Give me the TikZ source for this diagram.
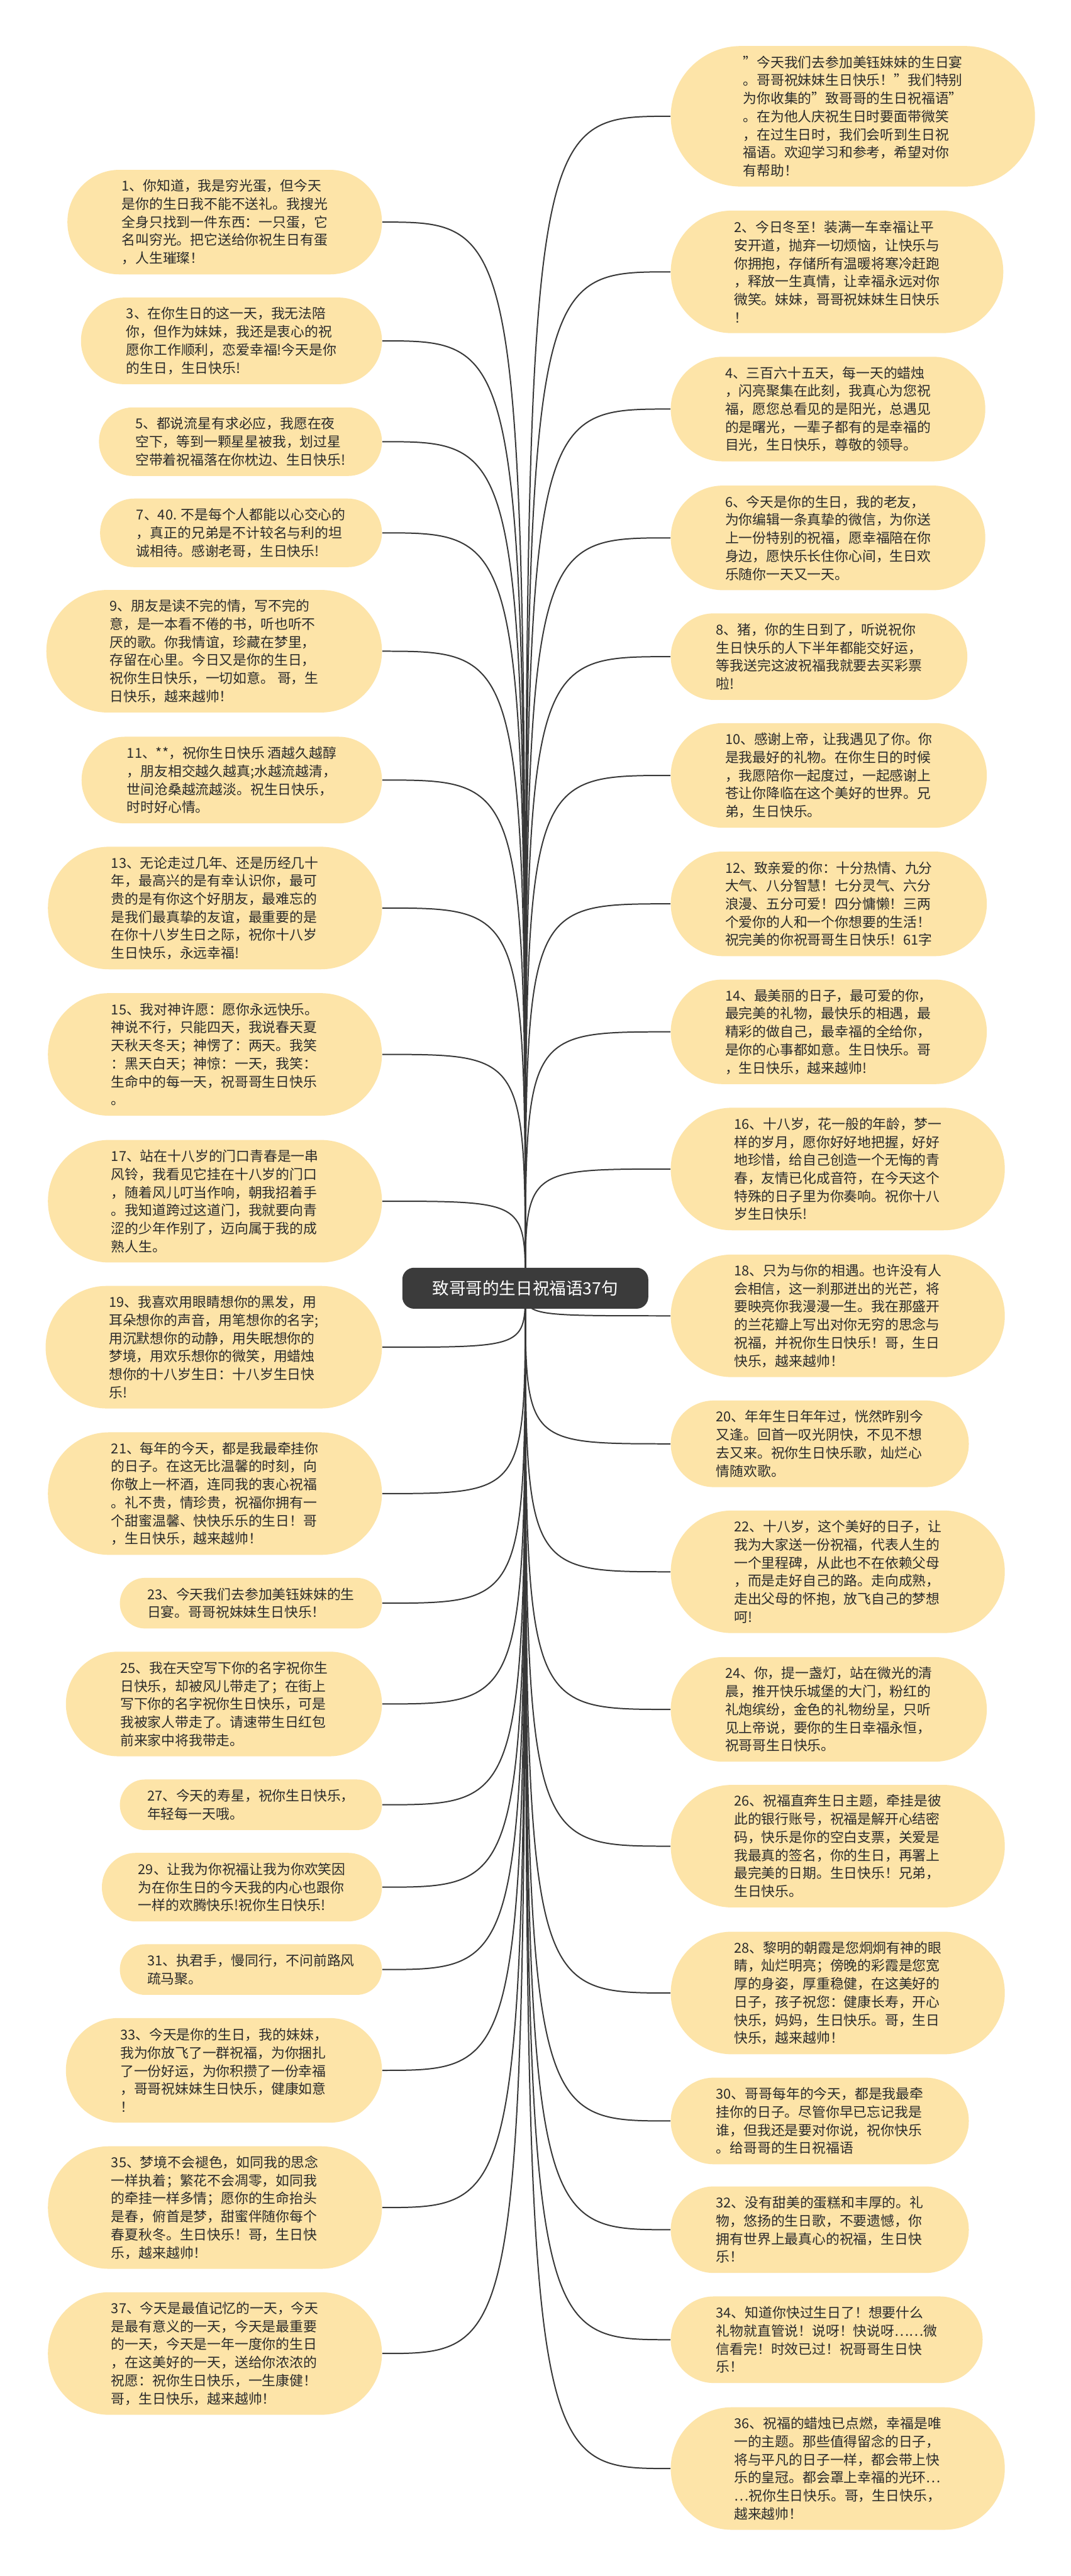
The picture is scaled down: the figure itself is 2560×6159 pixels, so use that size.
\documentclass[tikz,border=0pt]{standalone}
\usepackage{fontspec}
\setmainfont{Noto Sans CJK SC}
\usetikzlibrary{backgrounds}
\definecolor{leaffill}{HTML}{FDE4A8}
\definecolor{rootfill}{HTML}{3B3B3B}
\definecolor{linkgray}{HTML}{383838}
\definecolor{txtgray}{HTML}{2B2B2B}

\begin{document}
\begin{tikzpicture}[x=0.25pt,y=-0.25pt,
  leaf/.style={rectangle,fill=leaffill,inner ysep=0pt,
    align=left,text=txtgray,font=\fontsize{8.2pt}{10.8pt}\selectfont},
  nlines/.style={minimum height={(43*#1+35)*0.25pt},
    rounded corners={(43*#1+35)*0.125pt-0.1pt},
    inner xsep={(43*#1+35)*0.125pt+1.25pt}},
  lleaf/.style={leaf,anchor=east},
  rleaf/.style={leaf,anchor=west},
  rootbox/.style={rectangle,rounded corners=7pt,fill=rootfill,text=white,
    minimum width=147pt,minimum height=24.5pt,font=\fontsize{10pt}{12pt}\selectfont},
  link/.style={draw=linkgray,line width=0.75pt}]
   \useasboundingbox (0,0) rectangle (2560,6159);

   \node[rootbox] (root) at (1256,3080) {致哥哥的生日祝福语37句};

   \node[lleaf,nlines=5] (l1) at (914,531) {1、你知道，我是穷光蛋，但今天\\是你的生日我不能不送礼。我搜光\\全身只找到一件东西：一只蛋，它\\名叫穷光。把它送给你祝生日有蛋\\，人生璀璨！};
   \node[lleaf,nlines=4] (l3) at (914,815) {3、在你生日的这一天，我无法陪\\你，但作为妹妹，我还是衷心的祝\\愿你工作顺利，恋爱幸福!今天是你\\的生日，生日快乐!};
   \node[lleaf,nlines=3] (l5) at (914,1056) {5、都说流星有求必应，我愿在夜\\空下，等到一颗星星被我，划过星\\空带着祝福落在你枕边、生日快乐!};
   \node[lleaf,nlines=3] (l7) at (914,1274) {7、40. 不是每个人都能以心交心的\\，真正的兄弟是不计较名与利的坦\\诚相待。感谢老哥，生日快乐!};
   \node[lleaf,nlines=6] (l9) at (914,1557) {9、朋友是读不完的情，写不完的\\意，是一本看不倦的书，听也听不\\厌的歌。你我情谊，珍藏在梦里，\\存留在心里。今日又是你的生日，\\祝你生日快乐，一切如意。 哥，生\\日快乐，越来越帅！};
   \node[lleaf,nlines=4] (l11) at (914,1865) {11、**，祝你生日快乐 酒越久越醇\\，朋友相交越久越真;水越流越清，\\世间沧桑越流越淡。祝生日快乐，\\时时好心情。};
   \node[lleaf,nlines=6] (l13) at (914,2171) {13、无论走过几年、还是历经几十\\年，最高兴的是有幸认识你，最可\\贵的是有你这个好朋友，最难忘的\\是我们最真挚的友谊，最重要的是\\在你十八岁生日之际，祝你十八岁\\生日快乐，永远幸福!};
   \node[lleaf,nlines=6] (l15) at (914,2521) {15、我对神许愿：愿你永远快乐。\\神说不行，只能四天，我说春天夏\\天秋天冬天；神愣了：两天。我笑\\：黑天白天；神惊：一天，我笑：\\生命中的每一天，祝哥哥生日快乐\\。};
   \node[lleaf,nlines=6] (l17) at (914,2872) {17、站在十八岁的门口青春是一串\\风铃，我看见它挂在十八岁的门口\\，随着风儿叮当作响，朝我招着手\\。我知道跨过这道门，我就要向青\\涩的少年作别了，迈向属于我的成\\熟人生。};
   \node[lleaf,nlines=6] (l19) at (914,3221) {19、我喜欢用眼睛想你的黑发，用\\耳朵想你的声音，用笔想你的名字;\\用沉默想你的动静，用失眠想你的\\梦境，用欢乐想你的微笑，用蜡烛\\想你的十八岁生日：十八岁生日快\\乐!};
   \node[lleaf,nlines=6] (l21) at (914,3571) {21、每年的今天，都是我最牵挂你\\的日子。在这无比温馨的时刻，向\\你敬上一杯酒，连同我的衷心祝福\\。礼不贵，情珍贵，祝福你拥有一\\个甜蜜温馨、快快乐乐的生日！哥\\，生日快乐，越来越帅！};
   \node[lleaf,nlines=2] (l23) at (914,3833) {23、今天我们去参加美钰妹妹的生\\日宴。哥哥祝妹妹生日快乐！};
   \node[lleaf,nlines=5] (l25) at (914,4074) {25、我在天空写下你的名字祝你生\\日快乐，却被风儿带走了；在街上\\写下你的名字祝你生日快乐，可是\\我被家人带走了。请速带生日红包\\前来家中将我带走。};
   \node[lleaf,nlines=2] (l27) at (914,4315) {27、今天的寿星，祝你生日快乐，\\年轻每一天哦。};
   \node[lleaf,nlines=3] (l29) at (914,4512) {29、让我为你祝福让我为你欢笑因\\为在你生日的今天我的内心也跟你\\一样的欢腾快乐!祝你生日快乐!};
   \node[lleaf,nlines=2] (l31) at (914,4709) {31、执君手，慢同行，不问前路风\\疏马聚。};
   \node[lleaf,nlines=5] (l33) at (914,4950) {33、今天是你的生日，我的妹妹，\\我为你放飞了一群祝福，为你捆扎\\了一份好运，为你积攒了一份幸福\\，哥哥祝妹妹生日快乐，健康如意\\！};
   \node[lleaf,nlines=6] (l35) at (914,5278) {35、梦境不会褪色，如同我的思念\\一样执着；繁花不会凋零，如同我\\的牵挂一样多情；愿你的生命抬头\\是春，俯首是梦，甜蜜伴随你每个\\春夏秋冬。生日快乐！哥，生日快\\乐，越来越帅！};
   \node[lleaf,nlines=6] (l37) at (914,5627) {37、今天是最值记忆的一天，今天\\是最有意义的一天，今天是最重要\\的一天，今天是一年一度你的生日\\，在这美好的一天，送给你浓浓的\\祝愿：祝你生日快乐，一生康健！\\哥，生日快乐，越来越帅！};

   \node[rleaf,nlines=7] (r0) at (1603,278) {"今天我们去参加美钰妹妹的生日宴\\。哥哥祝妹妹生日快乐！"我们特别\\为你收集的"致哥哥的生日祝福语"\\。在为他人庆祝生日时要面带微笑\\，在过生日时，我们会听到生日祝\\福语。欢迎学习和参考，希望对你\\有帮助！};
   \node[rleaf,nlines=6] (r2) at (1603,650) {2、今日冬至！装满一车幸福让平\\安开道，抛弃一切烦恼，让快乐与\\你拥抱，存储所有温暖将寒冷赶跑\\，释放一生真情，让幸福永远对你\\微笑。妹妹，哥哥祝妹妹生日快乐\\！};
   \node[rleaf,nlines=5] (r4) at (1603,978) {4、三百六十五天，每一天的蜡烛\\，闪亮聚集在此刻，我真心为您祝\\福，愿您总看见的是阳光，总遇见\\的是曙光，一辈子都有的是幸福的\\目光，生日快乐，尊敬的领导。};
   \node[rleaf,nlines=5] (r6) at (1603,1286) {6、今天是你的生日，我的老友，\\为你编辑一条真挚的微信，为你送\\上一份特别的祝福，愿幸福陪在你\\身边，愿快乐长住你心间，生日欢\\乐随你一天又一天。};
   \node[rleaf,nlines=4] (r8) at (1603,1570) {8、猪，你的生日到了，听说祝你\\生日快乐的人下半年都能交好运，\\等我送完这波祝福我就要去买彩票\\啦!};
   \node[rleaf,nlines=5] (r10) at (1603,1854) {10、感谢上帝，让我遇见了你。你\\是我最好的礼物。在你生日的时候\\，我愿陪你一起度过，一起感谢上\\苍让你降临在这个美好的世界。兄\\弟，生日快乐。};
   \node[rleaf,nlines=5] (r12) at (1603,2161) {12、致亲爱的你：十分热情、九分\\大气、八分智慧！七分灵气、六分\\浪漫、五分可爱！四分慵懒！三两\\个爱你的人和一个你想要的生活！\\祝完美的你祝哥哥生日快乐！61字};
   \node[rleaf,nlines=5] (r14) at (1603,2467) {14、最美丽的日子，最可爱的你，\\最完美的礼物，最快乐的相遇，最\\精彩的做自己，最幸福的全给你，\\是你的心事都如意。生日快乐。哥\\，生日快乐，越来越帅!};
   \node[rleaf,nlines=6] (r16) at (1603,2795) {16、十八岁，花一般的年龄，梦一\\样的岁月，愿你好好地把握，好好\\地珍惜，给自己创造一个无悔的青\\春，友情已化成音符，在今天这个\\特殊的日子里为你奏响。祝你十八\\岁生日快乐!};
   \node[rleaf,nlines=6] (r18) at (1603,3146) {18、只为与你的相遇。也许没有人\\会相信，这一刹那迸出的光芒，将\\要映亮你我漫漫一生。我在那盛开\\的兰花瓣上写出对你无穷的思念与\\祝福，并祝你生日快乐！哥，生日\\快乐，越来越帅！};
   \node[rleaf,nlines=4] (r20) at (1603,3452) {20、年年生日年年过，恍然昨别今\\又逢。回首一叹光阴快，不见不想\\去又来。祝你生日快乐歌，灿烂心\\情随欢歌。};
   \node[rleaf,nlines=6] (r22) at (1603,3758) {22、十八岁，这个美好的日子，让\\我为大家送一份祝福，代表人生的\\一个里程碑，从此也不在依赖父母\\，而是走好自己的路。走向成熟，\\走出父母的怀抱，放飞自己的梦想\\呵!};
   \node[rleaf,nlines=5] (r24) at (1603,4087) {24、你，提一盏灯，站在微光的清\\晨，推开快乐城堡的大门，粉红的\\礼炮缤纷，金色的礼物纷呈，只听\\见上帝说，要你的生日幸福永恒，\\祝哥哥生日快乐。};
   \node[rleaf,nlines=6] (r26) at (1603,4414) {26、祝福直奔生日主题，牵挂是彼\\此的银行账号，祝福是解开心结密\\码，快乐是你的空白支票，关爱是\\我最真的签名，你的生日，再署上\\最完美的日期。生日快乐！兄弟，\\生日快乐。};
   \node[rleaf,nlines=6] (r28) at (1603,4765) {28、黎明的朝霞是您炯炯有神的眼\\睛，灿烂明亮；傍晚的彩霞是您宽\\厚的身姿，厚重稳健，在这美好的\\日子，孩子祝您：健康长寿，开心\\快乐，妈妈，生日快乐。哥，生日\\快乐，越来越帅！};
   \node[rleaf,nlines=4] (r30) at (1603,5071) {30、哥哥每年的今天，都是我最牵\\挂你的日子。尽管你早已忘记我是\\谁，但我还是要对你说，祝你快乐\\。给哥哥的生日祝福语};
   \node[rleaf,nlines=4] (r32) at (1603,5331) {32、没有甜美的蛋糕和丰厚的。礼\\物，悠扬的生日歌，不要遗憾，你\\拥有世界上最真心的祝福，生日快\\乐！};
   \node[rleaf,nlines=4] (r34) at (1603,5594) {34、知道你快过生日了！想要什么\\礼物就直管说！说呀！快说呀……微\\信看完！时效已过！祝哥哥生日快\\乐！};
   \node[rleaf,nlines=6] (r36) at (1603,5902) {36、祝福的蜡烛已点燃，幸福是唯\\一的主题。那些值得留念的日子，\\将与平凡的日子一样，都会带上快\\乐的皇冠。都会罩上幸福的光环…\\…祝你生日快乐。哥，生日快乐，\\越来越帅！};

   \begin{scope}[on background layer]
   \fill[white] (0,0) rectangle (2560,6159);
   \foreach \n in {l1,l3,l5,l7,l9,l11,l13,l15,l17,l19,l21,l23,l25,l27,l29,l31,l33,l35,l37}
     \draw[link] (root.center) .. controls (root.center |- \n.east) .. (\n.east);
   \foreach \n in {r0,r2,r4,r6,r8,r10,r12,r14,r16,r18,r20,r22,r24,r26,r28,r30,r32,r34,r36}
     \draw[link] (root.center) .. controls (root.center |- \n.west) .. (\n.west);
   \end{scope}
\end{tikzpicture}
\end{document}
